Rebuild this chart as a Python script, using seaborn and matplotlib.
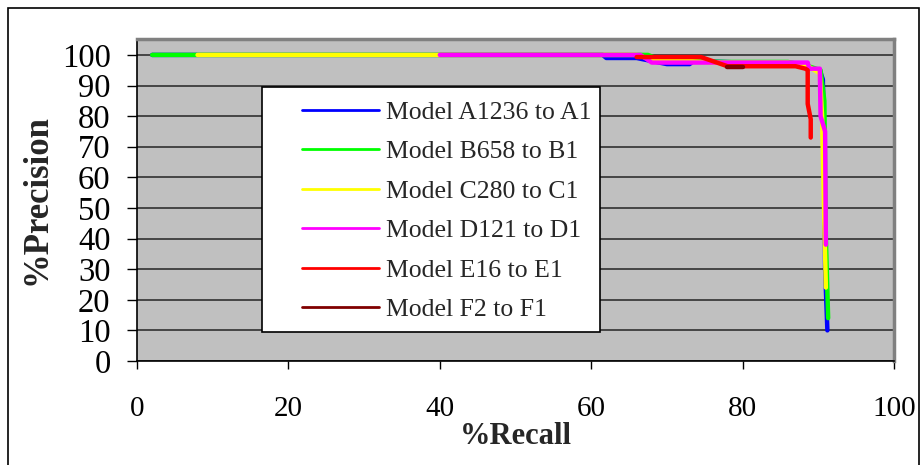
import pandas as pd
import numpy as np
import matplotlib
matplotlib.use("Agg")
import matplotlib.pyplot as plt
import seaborn as sns
from matplotlib.patches import Rectangle

# ------------------------------------------------------------
# Daten
# ------------------------------------------------------------
labels = [
    "Model A1236 to A1",
    "Model B658 to B1",
    "Model C280 to C1",
    "Model D121 to D1",
    "Model E16 to E1",
    "Model F2 to F1",
]

a_recall = [2, 61.5, 62, 66, 67, 70, 73, 73.5, 80, 86, 88.5, 90.2, 90.6, 90.7, 90.9, 91.2]
a_prec = [100, 100, 99, 99, 98.5, 97, 97, 98, 97.5, 97.5, 96, 95, 92, 80, 30, 10]

b_recall = [2, 67.5, 68.5, 72, 78, 86, 88.5, 90.3, 90.8, 91.0, 91.3]
b_prec = [100, 100, 99, 98, 97.7, 97.7, 96.5, 95, 85, 40, 14]

c_recall = [8, 66, 68, 70, 76, 86, 88.5, 90.2, 90.5, 90.8, 91.0]
c_prec = [100, 100, 98.5, 98.5, 97.5, 97.5, 96.5, 94, 80, 45, 24]

d_recall = [40, 66.5, 68, 88.6, 88.8, 90.2, 90.3, 90.9, 91.0]
d_prec = [100, 100, 97.5, 97.5, 95.5, 95.5, 80, 75, 38]

e_recall = [66, 74.5, 78, 87, 88.3, 88.6, 88.6, 89.0, 89.0]
e_prec = [99.3, 99.3, 96.3, 96.3, 95.5, 95, 84, 79, 73]

f_recall = [78, 80]
f_prec = [95.9, 95.9]

colors = ["#0000FF", "#00FF00", "#FFFF00", "#FF00FF", "#FF0000", "#800000"]

series = [
    (a_recall, a_prec), (b_recall, b_prec), (c_recall, c_prec),
    (d_recall, d_prec), (e_recall, e_prec), (f_recall, f_prec),
]

rows = []
for name, (rec, prec) in zip(labels, series):
    for i, (r, p) in enumerate(zip(rec, prec)):
        rows.append({"model": name, "step": i, "recall": r, "precision": p})
df = pd.DataFrame(rows)

# ------------------------------------------------------------
# Plot
# ------------------------------------------------------------
sns.set_style("white")
plt.rcParams["font.family"] = ["Liberation Serif", "DejaVu Serif"]

fig = plt.figure(figsize=(9.23, 4.65), dpi=100)
ax = fig.add_axes([137 / 923, 1 - 361 / 465, 757 / 923, 322 / 465])
ax.set_facecolor("#C0C0C0")

sns.lineplot(
    data=df, x="recall", y="precision", hue="model",
    hue_order=labels, palette=dict(zip(labels, colors)),
    sort=False, estimator=None, units="model", linewidth=3.2, ax=ax,
)

ax.set_xlim(0, 100)
ax.set_ylim(0, 105.2)
ax.set_xticks(range(0, 101, 20))
ax.set_yticks(range(0, 101, 10))
ax.yaxis.grid(True, color="#303030", linewidth=1.2)
ax.xaxis.grid(False)
ax.set_axisbelow(True)

for side in ["top", "right"]:
    ax.spines[side].set_color("#808080")
    ax.spines[side].set_linewidth(2.5)
for side in ["left", "bottom"]:
    ax.spines[side].set_color("black")
    ax.spines[side].set_linewidth(1.2)

ax.tick_params(axis="y", direction="out", length=7, width=1, labelsize=23.5,
               pad=12, left=True, colors="black")
ax.tick_params(axis="x", direction="out", length=6, width=1, labelsize=21,
               pad=19, bottom=True, colors="black")

ax.set_xlabel("%Recall", fontsize=22, fontweight="bold", labelpad=0)
ax.set_ylabel("%Precision", fontsize=25, fontweight="bold", labelpad=6)

# Legendenrahmen separat, Legende selbst ohne Rahmen
ax.add_patch(Rectangle((0.165, 0.09), 0.4465, 0.761, transform=ax.transAxes,
                       facecolor="white", edgecolor="black", linewidth=1.2,
                       zorder=4))
leg = ax.legend(
    loc="upper left", bbox_to_anchor=(0.218, 0.808), frameon=False,
    fontsize=18.5, handlelength=3.0, handletextpad=0.25, labelspacing=0.64,
    borderpad=0, borderaxespad=0,
)
leg.set_zorder(5)
for line in leg.get_lines():
    line.set_linewidth(2)

# Rahmen um die ganze Grafik
fig.patches.append(Rectangle((8 / 923, -0.05), 911 / 923, 1.05 - 8 / 465,
                             transform=fig.transFigure, fill=False,
                             edgecolor="black", linewidth=1.2))

fig.savefig("out.png", dpi=100)
